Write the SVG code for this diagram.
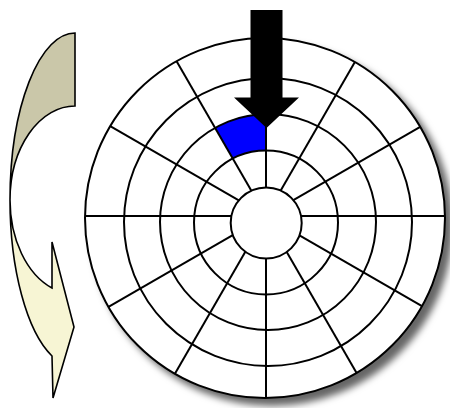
<svg xmlns="http://www.w3.org/2000/svg" width="450" height="408" viewBox="0 0 450 408">
<defs>
<filter id="shadow" x="-10%" y="-10%" width="130%" height="130%">
<feGaussianBlur in="SourceAlpha" stdDeviation="3.5"/>
<feOffset dx="7" dy="7" result="b"/>
<feFlood flood-color="#000" flood-opacity="0.6"/>
<feComposite in2="b" operator="in"/>
<feMerge><feMergeNode/><feMergeNode in="SourceGraphic"/></feMerge>
</filter>
</defs>
<style>
.ln{stroke:#000;stroke-width:2;fill:none}
.ol{stroke:#000;stroke-width:1.6;stroke-linejoin:miter}
</style>
<rect width="450" height="408" fill="#fff"/>
<g id="curved-arrow">
<path class="ol" fill="#cac7a9" d="M75,33 A65,167 0 0 0 10,200 A65,94 0 0 1 75,106 Z"/>
<path class="ol" fill="#f7f5d4" d="M10,200 A65,167 0 0 0 52,356 L53,398 L74,327 L52,242 L52,288 A65,94 0 0 1 10,200 Z"/>
</g>
<g id="disk">
<circle cx="265" cy="218" r="180" fill="#fff" stroke="#000" stroke-width="2" filter="url(#shadow)"/>
<path fill="#0000ff" d="M215.1,127.8 A108,108 0 0 1 266,114 L266,150.5 A72,72 0 0 0 232.85,158.6 Z"/>
<g class="ln">
<line x1="85" y1="216" x2="445" y2="216"/>
<line x1="110.2" y1="126.1" x2="422" y2="306.1"/>
<line x1="176.6" y1="61.2" x2="356.6" y2="372.9"/>
<line x1="266" y1="38" x2="266" y2="398"/>
<line x1="354.9" y1="62" x2="174.9" y2="373.8"/>
<line x1="420.2" y1="126.9" x2="108.5" y2="306.9"/>
<circle cx="268" cy="222" r="144"/>
<circle cx="268" cy="222" r="108"/>
<circle cx="266" cy="222.5" r="72"/>
</g>
<circle cx="266.2" cy="223" r="35.5" fill="#fff" stroke="#000" stroke-width="2"/>
</g>
<g id="pointer">
<polygon fill="#000" points="250.5,10 282.5,10 282.5,97.5 299,97.5 266.5,128 234,97.5 250.5,97.5"/>
</g>
</svg>
